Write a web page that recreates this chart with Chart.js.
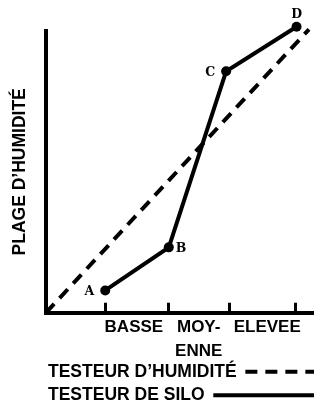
<!DOCTYPE html>
<html><head><meta charset="utf-8">
<script src="https://cdn.jsdelivr.net/npm/chart.js@4/dist/chart.umd.min.js"></script>
<style>html,body{margin:0;padding:0;background:#fff;overflow:hidden}</style>
</head><body>
<canvas id="c" width="314" height="404"></canvas>
<script>
const seriesNames = ['TESTEUR D\u2019HUMIDIT\u00c9', 'TESTEUR DE SILO'];
const humidityX = [0, 4.22];
const humidityY = [0, 10.06];
const siloX = [0.95, 1.97, 2.89, 4.02];
const siloY = [0.79, 2.32, 8.57, 10.15];
const pointNames = ['A', 'B', 'C', 'D'];
const pointNameSides = ['left', 'right', 'left', 'top'];
const tickMarkValues = [0.95, 1.97, 2.95, 4.0];
const categoryLabels = ['BASSE', ['MOY-', 'ENNE'], 'ELEVEE'];
const categoryValues = [1.41, 2.45, 3.55];
const yTitle = 'PLAGE D\u2019HUMIDIT\u00c9';

const allTicks = tickMarkValues.concat(categoryValues).sort((a, b) => a - b);
const SANS = '"Liberation Sans", Arial, sans-serif';

const pointNamePlugin = {
  id: 'pointNames',
  afterDatasetsDraw(chart) {
    const ctx = chart.ctx;
    const meta = chart.getDatasetMeta(1);
    ctx.save();
    ctx.fillStyle = '#000';
    ctx.font = 'bold 12.5px "DejaVu Serif", serif';
    meta.data.forEach((pt, i) => {
      const side = pointNameSides[i];
      let x = pt.x, y = pt.y;
      if (side === 'left') { ctx.textAlign = 'right'; ctx.textBaseline = 'middle'; x -= 11; y += 1; }
      else if (side === 'right') { ctx.textAlign = 'left'; ctx.textBaseline = 'middle'; x += 7; y += 1; }
      else { ctx.textAlign = 'center'; ctx.textBaseline = 'alphabetic'; y -= 9; }
      ctx.fillText(pointNames[i], x, y);
    });
    ctx.restore();
  }
};

const legendNudge = {
  id: 'legendNudge',
  afterLayout(chart) {
    const l = chart.legend;
    if (l) { l.left -= 4; l.width += 4; }
  }
};

new Chart(document.getElementById('c'), {
  type: 'line',
  data: {
    datasets: [
      {
        label: seriesNames[0],
        data: humidityX.map((x, i) => ({ x, y: humidityY[i] })),
        borderColor: '#000',
        backgroundColor: '#000',
        borderWidth: 4,
        borderDash: [12, 8],
        pointRadius: 0,
        clip: false
      },
      {
        label: seriesNames[1],
        data: siloX.map((x, i) => ({ x, y: siloY[i] })),
        borderColor: '#000',
        backgroundColor: '#000',
        borderWidth: 4,
        pointRadius: 5,
        pointBackgroundColor: '#000',
        pointBorderWidth: 0,
        clip: false
      }
    ]
  },
  options: {
    responsive: false,
    animation: false,
    devicePixelRatio: 1,
    layout: { autoPadding: false, padding: { top: 31, left: 0, right: 0, bottom: -10 } },
    scales: {
      x: {
        type: 'linear',
        min: 0,
        max: 4.3,
        afterBuildTicks: s => { s.ticks = allTicks.map(v => ({ value: v })); },
        afterFit: s => { s.height -= 19; },
        grid: {
          drawOnChartArea: false,
          drawTicks: true,
          tickLength: -10,
          tickWidth: 3,
          tickColor: c => (c.tick && tickMarkValues.includes(c.tick.value)) ? '#000' : 'rgba(0,0,0,0)'
        },
        border: { color: '#000', width: 4 },
        ticks: {
          autoSkip: false,
          maxRotation: 0,
          padding: 13.35,
          color: '#000',
          font: { family: SANS, size: 17, weight: 'bold', lineHeight: 1.37 },
          callback: v => { const i = categoryValues.indexOf(v); return i >= 0 ? categoryLabels[i] : ''; }
        }
      },
      y: {
        min: 0,
        max: 10,
        grid: { display: false, drawTicks: false },
        ticks: { display: false },
        border: { color: '#000', width: 4 },
        title: {
          display: true,
          text: yTitle,
          color: '#000',
          font: { family: SANS, size: 17.5, weight: 'bold', lineHeight: 1.2 },
          padding: { top: 10, bottom: 15 }
        }
      }
    },
    plugins: {
      tooltip: { enabled: false },
      legend: {
        position: 'bottom',
        fullSize: false,
        align: 'end',
        rtl: true,
        textDirection: 'ltr',
        labels: {
          boxWidth: 126,
          boxHeight: 0,
          padding: 6,
          color: '#000',
          font: { family: SANS, size: 17.5, weight: 'bold' }
        }
      }
    }
  },
  plugins: [pointNamePlugin, legendNudge]
});
</script>
</body></html>
